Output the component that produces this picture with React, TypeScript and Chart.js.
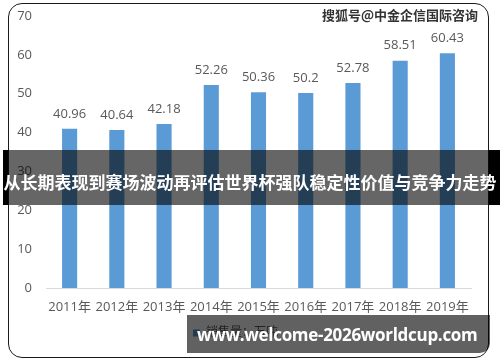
import React, { useEffect, useRef } from "react";
import { Chart, registerables } from "chart.js";

Chart.register(...registerables);

const years = ["2011年", "2012年", "2013年", "2014年", "2015年", "2016年", "2017年", "2018年", "2019年"];
const sales = [40.96, 40.64, 42.18, 52.26, 50.36, 50.2, 52.78, 58.51, 60.43];
const seriesName = "销售量：万吨";
const yMin = 0;
const yMax = 70;
const yStep = 10;
const bannerText = "从长期表现到赛场波动再评估世界杯强队稳定性价值与竞争力走势";
const sourceText = "搜狐号@中金企信国际咨询";
const siteText = "www.welcome-2026worldcup.com";

const FONT = "'Open Sans', 'Noto Sans CJK SC', sans-serif";

const valueLabels = {
  id: "valueLabels",
  afterDatasetsDraw(chart: any) {
    const ctx = chart.ctx;
    const meta = chart.getDatasetMeta(0);
    const data = chart.data.datasets[0].data;
    ctx.save();
    ctx.font = "13px " + FONT;
    ctx.fillStyle = "#595959";
    ctx.textAlign = "center";
    ctx.textBaseline = "middle";
    meta.data.forEach((el: any, i: number) => {
      ctx.fillText(String(data[i]), el.x, el.y - 15);
    });
    ctx.restore();
  },
};

export default function App() {
  const ref = useRef<HTMLCanvasElement>(null);
  useEffect(() => {
    if (!ref.current) return;
    const chart = new Chart(ref.current, {
      type: "bar",
      data: {
        labels: years,
        datasets: [
          {
            label: seriesName,
            data: sales,
            backgroundColor: "#5b9bd5",
            barPercentage: 0.64,
            categoryPercentage: 0.5,
          },
        ],
      },
      options: {
        responsive: false,
        animation: false,
        layout: { padding: { top: 16, right: 29, bottom: 13, left: 0 } },
        plugins: {
          legend: {
            display: true,
            position: "bottom",
            labels: {
              boxWidth: 7,
              boxHeight: 7,
              padding: 4,
              color: "#595959",
              font: { size: 12, family: FONT },
            },
          },
          tooltip: { enabled: false },
        },
        scales: {
          x: {
            grid: { display: false, drawTicks: false },
            border: { display: true, color: "#d9d9d9", width: 1 },
            ticks: {
              color: "#595959",
              font: { size: 13, family: FONT },
              padding: 11,
              maxRotation: 0,
              autoSkip: false,
            },
            afterFit(scale: any) {
              scale.height = 35;
            },
          },
          y: {
            min: yMin,
            max: yMax,
            grid: { display: false, drawTicks: false },
            border: { display: false },
            ticks: {
              stepSize: yStep,
              color: "#595959",
              font: { size: 13, family: FONT },
              padding: 14,
            },
            afterFit(scale: any) {
              scale.width = 46;
              scale.paddingTop = 0;
              scale.paddingBottom = 0;
            },
          },
        },
      },
      plugins: [valueLabels],
    });
    return () => chart.destroy();
  }, []);

  return (
    <div style={{ position: "relative", width: 500, height: 362, background: "#fff", overflow: "hidden" }}>
      <style>{"body{margin:0}"}</style>
      <canvas ref={ref} width={500} height={362} style={{ position: "absolute", left: 0, top: 0 }} />
      <div
        style={{
          position: "absolute",
          left: 8,
          top: 3,
          width: 479,
          height: 353,
          border: "1.5px solid #1a1a1a",
          borderRadius: 14,
          pointerEvents: "none",
        }}
      />
      <div
        style={{
          position: "absolute",
          right: 22,
          top: 5,
          font: "bold 13px 'Noto Sans CJK SC', sans-serif",
          color: "#333",
          textShadow: "0 0 2px #fff, 0 0 2px #fff",
          whiteSpace: "nowrap",
        }}
      >
        {sourceText}
      </div>
      <div style={{ position: "absolute", left: 3, top: 150, width: 5, height: 55, background: "#000" }} />
      <div style={{ position: "absolute", left: 489, top: 150, width: 11, height: 55, background: "#000" }} />
      <div
        style={{
          position: "absolute",
          left: 8,
          top: 150,
          width: 481,
          height: 55,
          background: "rgba(0,0,0,0.6)",
        }}
      />
      <div
        style={{
          position: "absolute",
          left: 0,
          top: 150,
          width: 500,
          height: 55,
          display: "flex",
          alignItems: "center",
          justifyContent: "center",
          color: "#fff",
          font: "bold 17px 'Noto Sans CJK SC', sans-serif",
          whiteSpace: "nowrap",
          letterSpacing: 0,
        }}
      >
        <span style={{ position: "relative", top: 4 }}>{bannerText}</span>
      </div>
      <div
        style={{
          position: "absolute",
          left: 187,
          top: 315,
          width: 303,
          height: 38,
          background: "rgba(0,0,0,0.62)",
          borderBottomRightRadius: 10,
          display: "flex",
          alignItems: "center",
          paddingLeft: 10,
          boxSizing: "border-box",
          color: "#fff",
          font: "bold 17px 'Open Sans', sans-serif",
          letterSpacing: -0.3,
          whiteSpace: "nowrap",
        }}
      >
        {siteText}
      </div>
    </div>
  );
}
